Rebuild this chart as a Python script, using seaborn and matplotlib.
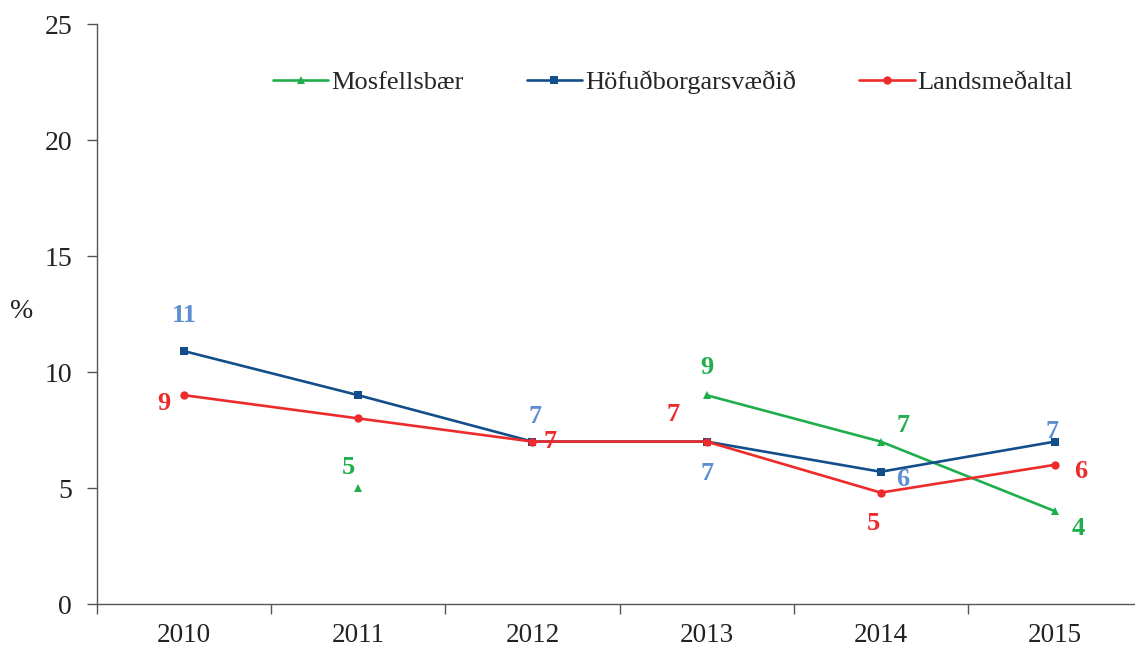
import numpy as np
import pandas as pd
import seaborn as sns
import matplotlib.pyplot as plt
from matplotlib.ticker import FixedLocator

sns.set_theme(style="white")
plt.rcParams["font.family"] = ["Liberation Serif", "DejaVu Serif"]

years = ["2010", "2011", "2012", "2013", "2014", "2015"]
series = ["Mosfellsbær", "Höfuðborgarsvæðið", "Landsmeðaltal"]
mosfellsbaer = [np.nan, 5, np.nan, 9, 7, 4]
hofudborg = [10.9, 9.0, 7.0, 7.0, 5.7, 7.0]
landsmedaltal = [9.0, 8.0, 7.0, 7.0, 4.8, 6.0]

line_colors = {"Mosfellsbær": "#1fae4b", "Höfuðborgarsvæðið": "#114e8b", "Landsmeðaltal": "#ee2b2b"}
label_colors = {"Mosfellsbær": "#1fae4b", "Höfuðborgarsvæðið": "#5b8fd1", "Landsmeðaltal": "#ee2b2b"}
markers = {"Mosfellsbær": "^", "Höfuðborgarsvæðið": "s", "Landsmeðaltal": "o"}

# label offsets in pixels (dx, dy) for the points that carry a value label
label_offsets = {
    "Mosfellsbær": {1: (-10, 21), 3: (0, 28), 4: (22, 16), 5: (23, -17)},
    "Höfuðborgarsvæðið": {0: (0, 36), 2: (3, 25), 3: (0, -32), 4: (22, -8), 5: (-3, 10)},
    "Landsmeðaltal": {0: (-20, -8), 2: (18, 0), 3: (-34, 27), 4: (-7, -31), 5: (26, -7)},
}

rows = []
for name, vals in zip(series, [mosfellsbaer, hofudborg, landsmedaltal]):
    seg = 0
    for i, v in enumerate(vals):
        if np.isnan(v):
            seg += 1
            continue
        rows.append({"x": i, "value": v, "series": name, "seg": f"{name}-{seg}"})
df = pd.DataFrame(rows)

fig = plt.figure(figsize=(11.35, 6.48), dpi=100)
W, H = 1135, 648
ax = fig.add_axes([97 / W, (H - 604) / H, (1142 - 97) / W, (604 - 24) / H])

sns.lineplot(
    data=df, x="x", y="value", hue="series", style="series", units="seg",
    estimator=None, hue_order=series, style_order=series,
    palette=line_colors, markers=markers, dashes=False,
    lw=1.9, markersize=6, markeredgewidth=0, ax=ax, legend=False,
)

for name, vals in zip(series, [mosfellsbaer, hofudborg, landsmedaltal]):
    for i, (dx, dy) in label_offsets[name].items():
        ax.annotate(
            f"{round(vals[i]):d}", (i, vals[i]), xytext=(dx * 0.72, dy * 0.72),
            textcoords="offset points", ha="center", va="center",
            fontsize=19, fontweight="bold", color=label_colors[name],
        )

ax.set_xlim(-0.5, 5.5)
ax.set_ylim(0, 25)
ax.set_yticks([0, 5, 10, 15, 20, 25])
ax.set_xticks(range(len(years)))
ax.set_xticklabels(years)
ax.xaxis.set_minor_locator(FixedLocator(np.arange(-0.5, 6, 1)))
ax.tick_params(axis="x", which="major", length=0, pad=14, labelsize=19.5, labelcolor="#222222")
ax.tick_params(axis="x", which="minor", length=7, width=1, direction="out", bottom=True, color="#555555")
ax.tick_params(axis="y", length=7, width=1, direction="out", left=True, pad=11, labelsize=20,
               color="#555555", labelcolor="#222222")

for s in ["top", "right"]:
    ax.spines[s].set_visible(False)
for s in ["left", "bottom"]:
    ax.spines[s].set_color("#555555")
    ax.spines[s].set_linewidth(1)

ax.set_xlabel("")
ax.set_ylabel("%", rotation=0, fontsize=20, color="#222222", va="center", ha="center")
ax.yaxis.set_label_coords(-75 / 1045, (604 - 312) / 580)

handles = [
    plt.Line2D([], [], color=line_colors[n], marker=markers[n], lw=1.9, markersize=6, markeredgewidth=0)
    for n in series
]
ax.legend(
    handles, series, loc="center", bbox_to_anchor=(0.551, 0.9), ncol=3, frameon=False,
    fontsize=19, handlelength=2.1, columnspacing=2.4, handletextpad=0.1,
)

fig.savefig("out.png", dpi=100)
